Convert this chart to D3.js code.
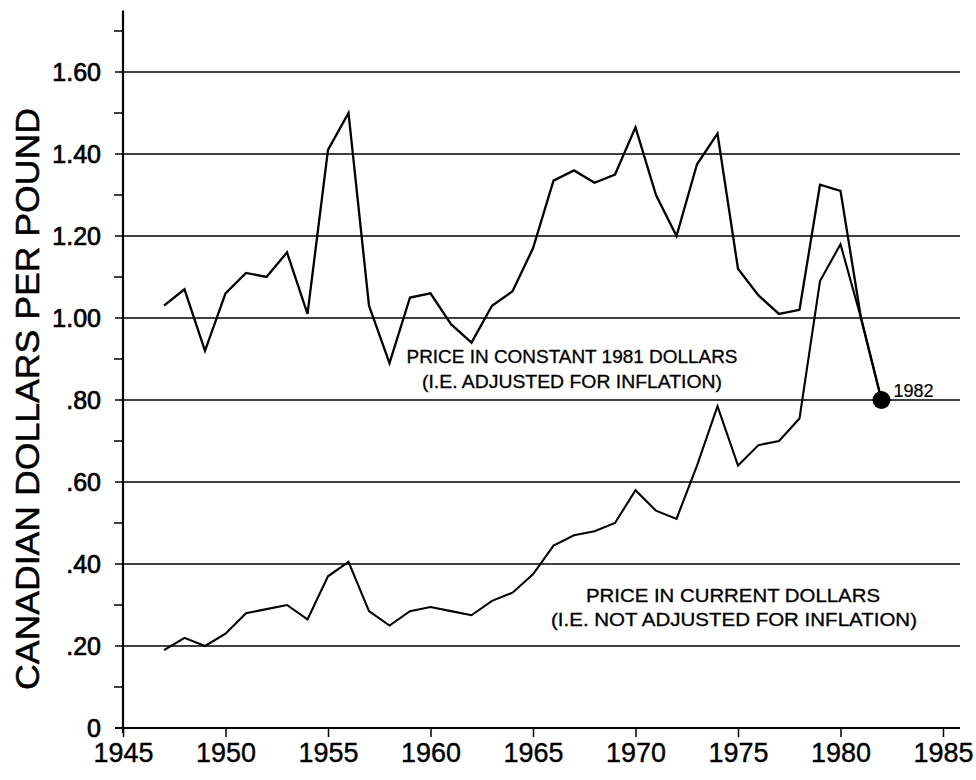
<!DOCTYPE html>
<html>
<head>
  <meta charset="utf-8">
  <style>
    body { margin: 0; background: #fff; }
    text { font-family: "Liberation Sans", Arial, Helvetica, sans-serif; fill: #000; }
  </style>
</head>
<body>
<svg id="chart" width="976" height="780"></svg>
<script src="https://d3js.org/d3.v7.min.js"></script>
<script>
// years 1947 - 1982
var years = d3.range(1947, 1983);

// price in constant 1981 dollars
var constantPrice = [1.03, 1.07, 0.92, 1.06, 1.11, 1.10, 1.16, 1.01, 1.41, 1.50,
                     1.03, 0.89, 1.05, 1.06, 0.985, 0.94, 1.03, 1.065, 1.17, 1.335,
                     1.36, 1.33, 1.35, 1.465, 1.30, 1.20, 1.375, 1.45, 1.12, 1.055,
                     1.01, 1.02, 1.325, 1.31, 1.00, 0.80];

// price in current dollars
var currentPrice = [0.19, 0.22, 0.20, 0.23, 0.28, 0.29, 0.30, 0.265, 0.37, 0.405,
                    0.285, 0.25, 0.285, 0.295, 0.285, 0.275, 0.31, 0.33, 0.375, 0.445,
                    0.47, 0.48, 0.50, 0.58, 0.53, 0.51, 0.64, 0.785, 0.64, 0.69,
                    0.70, 0.755, 1.09, 1.18, 1.00, 0.80];

var xTicks = [1945, 1950, 1955, 1960, 1965, 1970, 1975, 1980, 1985];
var yTicks = [0, 0.2, 0.4, 0.6, 0.8, 1.0, 1.2, 1.4, 1.6];
var yTickLabels = ["0", ".20", ".40", ".60", ".80", "1.00", "1.20", "1.40", "1.60"];
var yMinor = [0.1, 0.3, 0.5, 0.7, 0.9, 1.1, 1.3, 1.5, 1.7];

var svg = d3.select("#chart");

var x = d3.scaleLinear().domain([1945, 1985]).range([123, 943]);
var y = d3.scaleLinear().domain([0, 1.6]).range([728, 72]);

var gridRight = 960;

// horizontal grid lines (0 line is the x axis)
svg.append("g").selectAll("line")
    .data(yTicks)
    .enter().append("line")
      .attr("x1", x(1945) - 8)
      .attr("x2", gridRight)
      .attr("y1", function(d) { return y(d); })
      .attr("y2", function(d) { return y(d); })
      .attr("stroke", "#000")
      .attr("stroke-width", function(d) { return d === 0 ? 2 : 1.5; });

// minor ticks
svg.append("g").selectAll("line")
    .data(yMinor)
    .enter().append("line")
      .attr("x1", x(1945) - 9)
      .attr("x2", x(1945))
      .attr("y1", function(d) { return y(d); })
      .attr("y2", function(d) { return y(d); })
      .attr("stroke", "#000")
      .attr("stroke-width", 1.5);

// y axis line
svg.append("line")
    .attr("x1", x(1945)).attr("x2", x(1945))
    .attr("y1", y(1.75)).attr("y2", y(0) + 5)
    .attr("stroke", "#000")
    .attr("stroke-width", 2.2);

// y tick labels
svg.append("g").selectAll("text")
    .data(yTicks)
    .enter().append("text")
      .attr("x", 101)
      .attr("y", function(d) { return y(d); })
      .attr("dy", ".36em")
      .attr("text-anchor", "end")
      .style("font-size", "25px")
      .style("stroke", "#000")
      .style("stroke-width", "0.7px")
      .text(function(d, i) { return yTickLabels[i]; });

// x axis ticks + labels
var xAxis = d3.axisBottom(x)
    .tickValues(xTicks)
    .tickSize(9)
    .tickPadding(5)
    .tickFormat(d3.format("d"));

var gx = svg.append("g")
    .attr("transform", "translate(0," + y(0) + ")")
    .call(xAxis);
gx.select(".domain").remove();
gx.selectAll(".tick line").attr("stroke", "#000").attr("stroke-width", 1.5);
gx.selectAll(".tick text")
    .attr("font-family", null)
    .attr("font-size", null)
    .attr("textLength", 60)
    .attr("lengthAdjust", "spacingAndGlyphs")
    .style("font-size", "28px")
    .style("fill", "#000")
    .style("stroke", "#000")
    .style("stroke-width", "0.4px");

// y axis title
svg.append("text")
    .attr("transform", "translate(39," + 399 + ") rotate(-90)")
    .attr("text-anchor", "middle")
    .attr("textLength", 582)
    .attr("lengthAdjust", "spacingAndGlyphs")
    .style("font-size", "34px")
    .style("stroke", "#000")
    .style("stroke-width", "0.5px")
    .text("CANADIAN DOLLARS PER POUND");

// the two series
var line = d3.line()
    .x(function(d) { return x(d.year); })
    .y(function(d) { return y(d.value); });

function series(values) {
  return years.map(function(yr, i) { return {year: yr, value: values[i]}; });
}

svg.append("path")
    .datum(series(constantPrice))
    .attr("d", line)
    .attr("fill", "none")
    .attr("stroke", "#000")
    .attr("stroke-width", 2.3)
    .attr("stroke-linejoin", "miter");

svg.append("path")
    .datum(series(currentPrice))
    .attr("d", line)
    .attr("fill", "none")
    .attr("stroke", "#000")
    .attr("stroke-width", 2.1)
    .attr("stroke-linejoin", "miter");

// 1982 point
svg.append("circle")
    .attr("cx", x(1982))
    .attr("cy", y(currentPrice[currentPrice.length - 1]))
    .attr("r", 9)
    .attr("fill", "#000");

svg.append("text")
    .attr("x", x(1982) + 12)
    .attr("y", y(currentPrice[currentPrice.length - 1]) - 3)
    .style("font-size", "18px")
    .style("stroke", "#000")
    .style("stroke-width", "0.2px")
    .text("1982");

// series labels
var labels = [
  {text: "PRICE IN CONSTANT 1981 DOLLARS", cx: 572, cy: 357, w: 331},
  {text: "(I.E. ADJUSTED FOR INFLATION)", cx: 572, cy: 382, w: 300},
  {text: "PRICE IN CURRENT DOLLARS", cx: 733, cy: 596, w: 294},
  {text: "(I.E. NOT ADJUSTED FOR INFLATION)", cx: 734, cy: 620, w: 366}
];

svg.append("g").selectAll("text")
    .data(labels)
    .enter().append("text")
      .attr("x", function(d) { return d.cx; })
      .attr("y", function(d) { return d.cy; })
      .attr("dy", ".36em")
      .attr("text-anchor", "middle")
      .attr("textLength", function(d) { return d.w; })
      .attr("lengthAdjust", "spacingAndGlyphs")
      .style("font-size", "18px")
      .style("stroke", "#000")
      .style("stroke-width", "0.3px")
      .text(function(d) { return d.text; });
</script>
</body>
</html>
